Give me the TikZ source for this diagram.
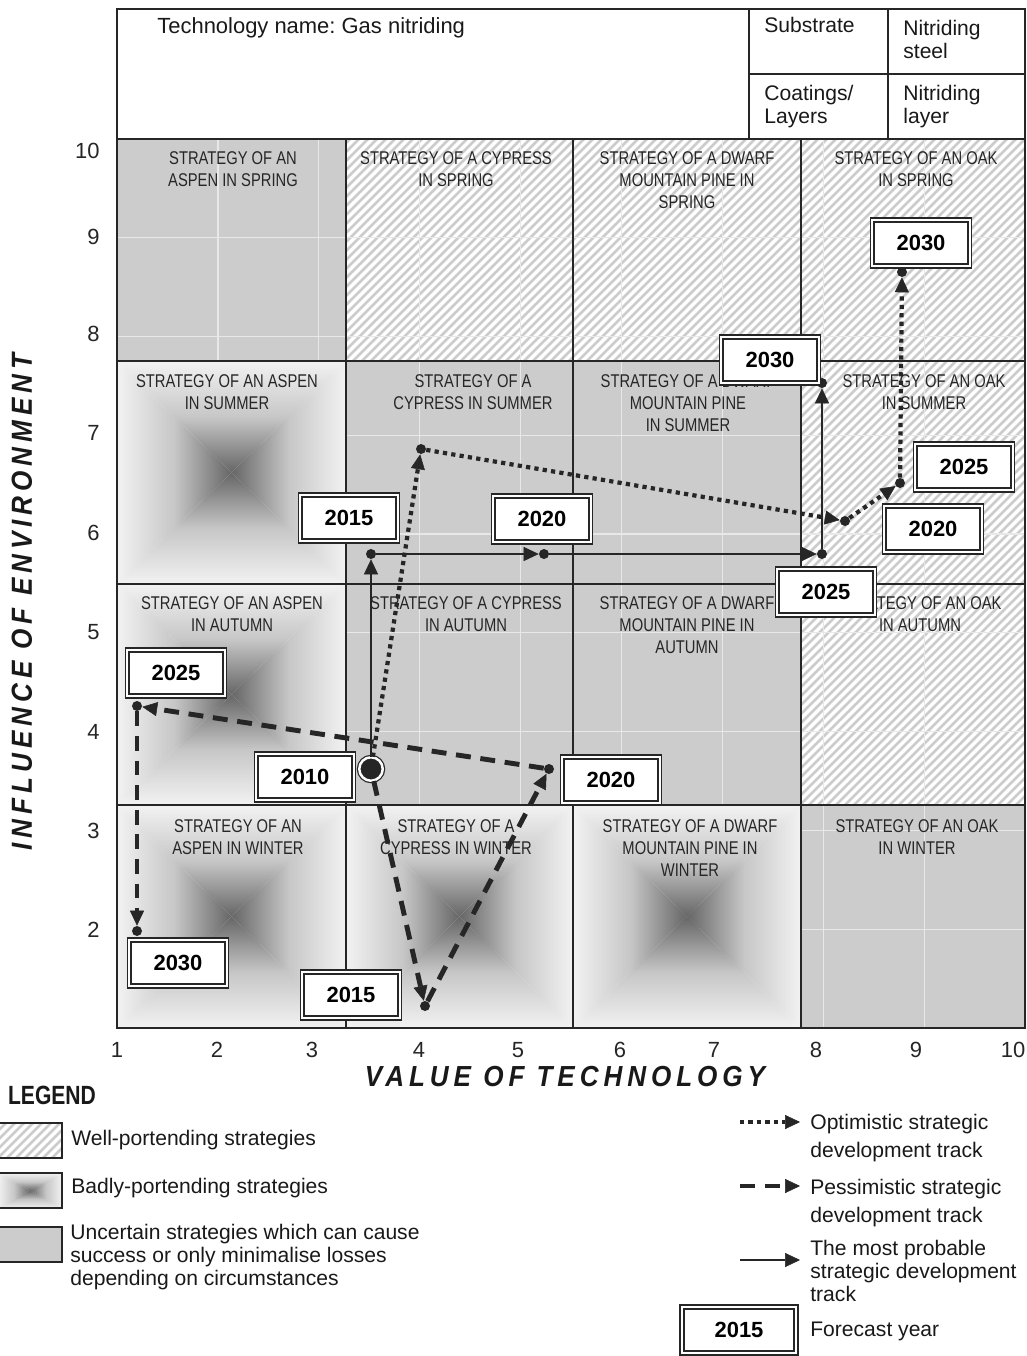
\documentclass[tikz,border=0pt]{standalone}
\usepackage{fontspec}
\setmainfont{Liberation Sans}
\newfontfamily\narrowfont[FakeStretch=0.8]{Liberation Sans}
\newfontfamily\axisfont[LetterSpace=17,FakeStretch=0.9]{Liberation Sans}
\usepackage{xcolor}
\usepackage{tikz}
\usetikzlibrary{positioning,arrows.meta}
\frenchspacing

\begin{document}
\begin{tikzpicture}[x=0.02cm,y=-0.02cm]
    \tikzstyle{cell frame}=[draw=black!85, line width=0.8pt]
    \tikzstyle{uncertain}=[fill=black!20]
    \tikzstyle{hatch}=[draw=black!20, line width=1.5pt]
    \tikzstyle{fine grid}=[draw=black!9, line width=0.7pt]
    \tikzstyle{cell label}=[anchor=north, align=center, inner sep=0pt, text=black!85, font=\narrowfont\fontsize{10.5}{12.5}\selectfont]
    \tikzstyle{tick label}=[inner sep=0pt, text=black!85, font=\fontsize{12.5}{14}\selectfont]
    \tikzstyle{axis title}=[inner sep=0pt, text=black!90, font=\axisfont\bfseries\itshape\fontsize{16.5}{19}\selectfont]
    \tikzstyle{plain text}=[inner sep=0pt, align=left, text=black!90, font=\fontsize{12}{13}\selectfont]
    \tikzstyle{year}=[rectangle, draw=black!85, line width=0.8pt, double=white, double distance=1.3pt, fill=white, minimum width=1.95cm, minimum height=0.92cm, inner sep=0pt, font=\bfseries\fontsize{12.5}{14}\selectfont]
    \tikzstyle{track dot}=[circle, fill=black!85, minimum size=0.2cm, inner sep=0pt]
    \tikzstyle{start dot}=[circle, fill=black!85, draw=black!85, line width=0.7pt, double=white, double distance=1.4pt, minimum size=0.47cm, inner sep=0pt]
    \tikzstyle{track line}=[draw=black!85, -{Triangle[length=8.5pt,width=8pt,line width=0.3pt]}]
    \tikzstyle{probable}=[track line, line width=1.4pt]
    \tikzstyle{optimistic}=[track line, line width=2.4pt, dash pattern=on 2.4pt off 2.4pt]
    \tikzstyle{pessimistic}=[track line, line width=2.8pt, dash pattern=on 8.5pt off 5.5pt]

    \newcommand{\badcell}[4]{%
        \shade[top color=black!5, bottom color=black!60, middle color=black!22]
            (#1,#2) -- (#3,#2) -- ({(#1+#3)/2},{(#2+#4)/2}) -- cycle;
        \shade[top color=black!60, bottom color=black!5, middle color=black!22]
            (#1,#4) -- (#3,#4) -- ({(#1+#3)/2},{(#2+#4)/2}) -- cycle;
        \shade[left color=black!5, right color=black!60, middle color=black!22]
            (#1,#2) -- (#1,#4) -- ({(#1+#3)/2},{(#2+#4)/2}) -- cycle;
        \shade[left color=black!60, right color=black!5, middle color=black!22]
            (#3,#2) -- (#3,#4) -- ({(#1+#3)/2},{(#2+#4)/2}) -- cycle;
    }

    \useasboundingbox (0,0) rectangle (1027,1356);

    % Uncertain cells
    \foreach \xa/\ya/\xb/\yb in {117/139/346/361, 346/361/573/584, 573/361/801/584,
                                 346/584/573/805, 573/584/801/805, 801/805/1025/1028}
        \fill[uncertain] (\xa,\ya) rectangle (\xb,\yb);

    % Well-portending cells
    \begin{scope}
        \clip (346,139) -- (1025,139) -- (1025,805) -- (801,805) -- (801,361) -- (346,361) -- cycle;
        \foreach \a in {-420,-411,...,935}
            \draw[hatch] (\a,900) -- ++(900,-900);
    \end{scope}

    % Unit grid
    \foreach \v in {2,...,9} {
        \draw[fine grid] ({117+100.9*(\v-1)},139) -- ({117+100.9*(\v-1)},1028);
        \draw[fine grid] (117,{1028-98.8*(\v-1)}) -- (1025,{1028-98.8*(\v-1)});
    }

    % Badly-portending cells
    \foreach \xa/\ya/\xb/\yb in {117/361/346/584, 117/584/346/805, 117/805/346/1028,
                                 346/805/573/1028, 573/805/801/1028}
        {\badcell{\xa}{\ya}{\xb}{\yb}}

    % Frames of the header and of the cells
    \draw[cell frame] (117,9) rectangle (1025,1028);
    \foreach \gx in {346,573,801}
        \draw[cell frame] (\gx,139) -- (\gx,1028);
    \foreach \gy in {139,361,584,805}
        \draw[cell frame] (117,\gy) -- (1025,\gy);
    \draw[cell frame] (749,9) -- (749,139);
    \draw[cell frame] (888,9) -- (888,139);
    \draw[cell frame] (749,74) -- (1025,74);

    % Header
    \node[plain text, anchor=west, font=\fontsize{12.5}{15}\selectfont] (techname) at (157,28) {Technology name: Gas nitriding};
    \node[plain text, anchor=north west] (substrate) at (764,17) {Substrate};
    \node[plain text, anchor=north west] (steel) at (903,20) {Nitriding\\steel};
    \node[plain text, anchor=north west] (coatings) at (764,85) {Coatings/\\Layers};
    \node[plain text, anchor=north west] (layer) at (903,85) {Nitriding\\layer};

    % Names of the strategies
    \foreach \name/\cx/\cy/\txt in {
            aspenspring/233/151/{STRATEGY OF AN\\ASPEN IN SPRING},
            cypressspring/456/151/{STRATEGY OF A CYPRESS\\IN SPRING},
            dwarfspring/687/151/{STRATEGY OF A DWARF\\MOUNTAIN PINE IN\\SPRING},
            oakspring/916/151/{STRATEGY OF AN OAK\\IN SPRING},
            aspensummer/227/374/{STRATEGY OF AN ASPEN\\IN SUMMER},
            cypresssummer/473/374/{STRATEGY OF A\\CYPRESS IN SUMMER},
            dwarfsummer/688/374/{STRATEGY OF A DWARF\\MOUNTAIN PINE\\IN SUMMER},
            oaksummer/924/374/{STRATEGY OF AN OAK\\IN SUMMER},
            aspenautumn/232/596/{STRATEGY OF AN ASPEN\\IN AUTUMN},
            cypressautumn/466/596/{STRATEGY OF A CYPRESS\\IN AUTUMN},
            dwarfautumn/687/596/{STRATEGY OF A DWARF\\MOUNTAIN PINE IN\\AUTUMN},
            oakautumn/920/596/{STRATEGY OF AN OAK\\IN AUTUMN},
            aspenwinter/238/819/{STRATEGY OF AN\\ASPEN IN WINTER},
            cypresswinter/456/819/{STRATEGY OF A\\CYPRESS IN WINTER},
            dwarfwinter/690/819/{STRATEGY OF A DWARF\\MOUNTAIN PINE IN\\WINTER},
            oakwinter/917/819/{STRATEGY OF AN OAK\\IN WINTER}}
        \node[cell label] (\name) at (\cx,\cy) {\txt};

    % Axes
    \foreach \v/\py in {10/151, 9/237, 8/334, 7/433, 6/533, 5/632, 4/732, 3/831, 2/930}
        \node[tick label, anchor=east] (ty\v) at (100,\py) {\v};
    \foreach \v/\px in {1/117, 2/217, 3/312, 4/419, 5/518, 6/620, 7/714, 8/816, 9/916, 10/1013}
        \node[tick label] (tx\v) at (\px,1050) {\v};
    \node[axis title, rotate=90] (ytitle) at (22,602) {INFLUENCE OF ENVIRONMENT};
    \node[axis title] (xtitle) at (565,1077) {VALUE OF TECHNOLOGY};

    % Points of the tracks
    \node[start dot] (p2010) at (371,769) {};
    \foreach \name/\px/\py in {s2015/371/554, s2020/544/554, s2025/822/554, s2030/822/383,
                               o2015/421/449, o2020/845/521, o2025/900/483, o2030/902/272,
                               e2015/425/1006, e2020/549/769, e2025/137/706, e2030/137/931}
        \node[track dot] (\name) at (\px,\py) {};

    % The most probable track
    \foreach \source/\dest in {p2010/s2015, s2015/s2020, s2020/s2025, s2025/s2030}
        \draw[probable] (\source) -- (\dest);

    % Optimistic track
    \foreach \source/\dest in {p2010/o2015, o2015/o2020, o2020/o2025, o2025/o2030}
        \draw[optimistic] (\source) -- (\dest);

    % Pessimistic track
    \foreach \source/\dest in {p2010/e2015, e2015/e2020, e2020/e2025, e2025/e2030}
        \draw[pessimistic] (\source) -- (\dest);

    % Forecast years
    \foreach \name/\px/\py/\yr in {yo2030/921/243/2030, ys2030/770/360/2030, yo2025/964/467/2025,
                                   yo2020/933/529/2020, ys2015/349/518/2015, ys2020/542/519/2020,
                                   ys2025/826/592/2025, ye2025/176/673/2025, y2010/305/777/2010,
                                   ye2020/611/780/2020, ye2030/178/963/2030, ye2015/351/995/2015}
        \node[year] (\name) at (\px,\py) {\yr};

    % Legend
    \node[inner sep=0pt, text=black!90, font=\narrowfont\bfseries\fontsize{15}{17}\selectfont] (legendtitle) at (52,1095) {LEGEND};

    \begin{scope}
        \clip (-2,1123) rectangle (62,1158);
        \foreach \a in {-50,-41,...,62}
            \draw[hatch] (\a,1170) -- ++(60,-60);
    \end{scope}
    \draw[cell frame] (-2,1123) rectangle (62,1158);
    \badcell{-2}{1173}{62}{1208}
    \draw[cell frame] (-2,1173) rectangle (62,1208);
    \fill[uncertain] (-2,1227) rectangle (62,1262);
    \draw[cell frame] (-2,1227) rectangle (62,1262);

    \coordinate (wellkey) at (62,1140);
    \coordinate (badkey) at (62,1188);
    \coordinate (uncertainkey) at (62,1224);
    \node[plain text, right=0.18cm of wellkey] (welltext) {Well-portending strategies};
    \node[plain text, right=0.18cm of badkey] (badtext) {Badly-portending strategies};
    \node[plain text, anchor=north west] (uncertaintext) at ([xshift=0.16cm]uncertainkey) {Uncertain strategies which can cause\\success or only minimalise losses\\depending on circumstances};

    \coordinate (optfrom) at (740,1122);
    \coordinate (optto) at (800,1122);
    \coordinate (pessfrom) at (740,1186);
    \coordinate (pessto) at (800,1186);
    \coordinate (probfrom) at (740,1260);
    \coordinate (probto) at (800,1260);
    \draw[optimistic] (optfrom) -- (optto);
    \draw[pessimistic] (pessfrom) -- (pessto);
    \draw[probable] (probfrom) -- (probto);

    \node[plain text, anchor=north west] (opttext) at (810,1114) {Optimistic strategic\\[3pt]development track};
    \node[plain text, anchor=north west] (pesstext) at (810,1179) {Pessimistic strategic\\[3pt]development track};
    \node[plain text, anchor=north west] (probtext) at (810,1240) {The most probable\\strategic development\\track};
    \node[year, minimum width=2.28cm] (yearkey) at (739,1330) {2015};
    \node[plain text, anchor=west] (yeartext) at (810,1331) {Forecast year};
\end{tikzpicture}
\end{document}
